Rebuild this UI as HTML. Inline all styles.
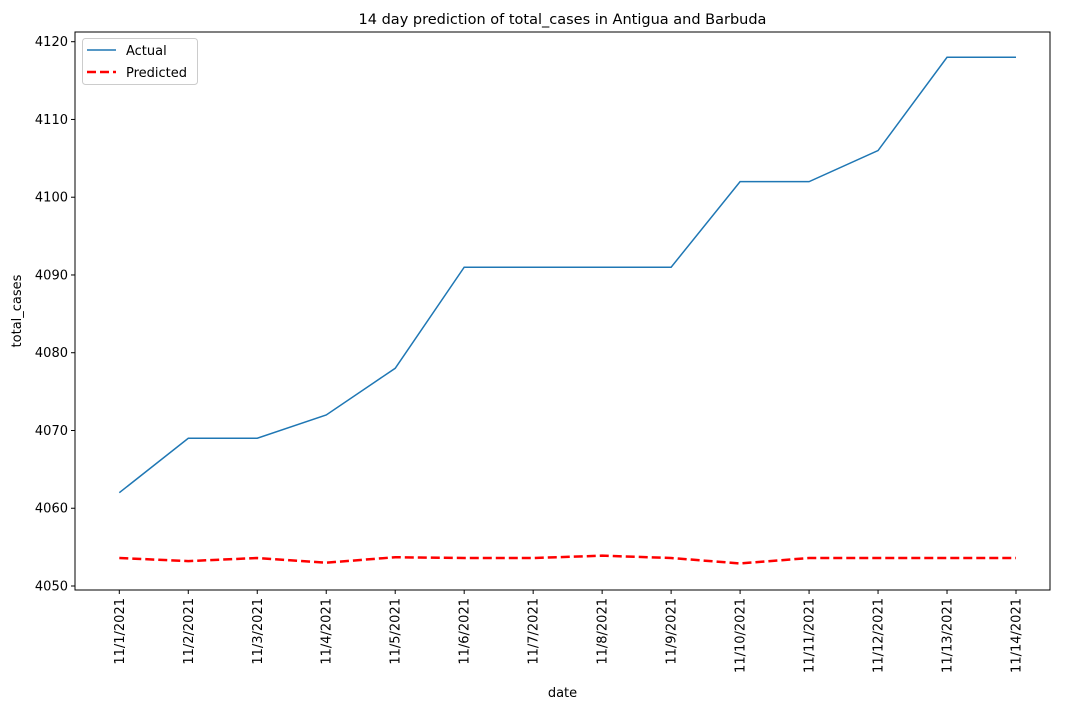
<!DOCTYPE html>
<html><head><meta charset="utf-8"><style>
body{margin:0;background:#fff;font-family:"Liberation Sans","DejaVu Sans",sans-serif}
</style></head><body>
<svg id="chart" width="1070" height="709" xmlns="http://www.w3.org/2000/svg" font-family="DejaVu Sans, Liberation Sans, sans-serif">
<rect width="1070" height="709" fill="#fff"/>
<g id="plot"></g>
</svg>
<script>
const categories=["11/1/2021","11/2/2021","11/3/2021","11/4/2021","11/5/2021","11/6/2021","11/7/2021","11/8/2021","11/9/2021","11/10/2021","11/11/2021","11/12/2021","11/13/2021","11/14/2021"];
const actual=[4062,4069,4069,4072,4078,4091,4091,4091,4091,4102,4102,4106,4118,4118];
const predicted=[4053.6,4053.2,4053.6,4053.0,4053.7,4053.6,4053.6,4053.9,4053.6,4052.9,4053.6,4053.6,4053.6,4053.6];
const yTicks=[4050,4060,4070,4080,4090,4100,4110,4120];

const NS="http://www.w3.org/2000/svg";
const g=document.getElementById('plot');
const L=75,R=1050,T=32,B=590;
const x=i=>119.3+i*(1016-119.3)/(categories.length-1);
const y=v=>586-(v-4050)*(586-41.7)/70;
function mk(tag,attrs,parent){const e=document.createElementNS(NS,tag);for(const k in attrs)e.setAttribute(k,attrs[k]);(parent||g).appendChild(e);return e;}

let t=mk('text',{x:(L+R)/2,y:24,'text-anchor':'middle','font-size':14.5,fill:'#000'});
t.textContent="14 day prediction of total_cases in Antigua and Barbuda";



yTicks.forEach(v=>{
 const l=mk('line',{x1:L-4,x2:L,y1:y(v),y2:y(v),stroke:'#000'});
 
 
 const tx=mk('text',{x:L-7,y:y(v)+4.5,'text-anchor':'end','font-size':13,fill:'#000'});
 tx.textContent=v;
 
 
});
categories.forEach((c,i)=>{
 const l=mk('line',{x1:x(i),x2:x(i),y1:B,y2:B+4,stroke:'#000'});
 
 
 const tx=mk('text',{x:0,y:0,'text-anchor':'end','font-size':13,fill:'#000',transform:`translate(${x(i)+4.5},${B+8}) rotate(-90)`});
 tx.textContent=c;
 
 
});

let p1=mk('polyline',{points:actual.map((v,i)=>x(i)+','+y(v)).join(' '),fill:'none',stroke:'#1f77b4','stroke-width':1.5});


let p2=mk('polyline',{points:predicted.map((v,i)=>x(i)+','+y(v)).join(' '),fill:'none',stroke:'#ff0000','stroke-width':2.5,'stroke-dasharray':'9,4'});



let fr=mk('rect',{x:L,y:T,width:R-L,height:B-T,fill:'none',stroke:'#000','stroke-width':1});



let xl=mk('text',{x:(L+R)/2,y:697,'text-anchor':'middle','font-size':13,fill:'#000'});
xl.textContent="date";


let yl=mk('text',{x:0,y:0,'text-anchor':'middle','font-size':13,fill:'#000',transform:`translate(21,${(T+B)/2}) rotate(-90)`});
yl.textContent="total_cases";



const lg=mk('g',{});


mk('rect',{x:82.5,y:38.5,width:115,height:46,rx:3,fill:'#fff',stroke:'#ccc'},lg);
mk('line',{x1:87,x2:116,y1:50,y2:50,stroke:'#1f77b4','stroke-width':1.5},lg);
mk('line',{x1:87,x2:116,y1:72,y2:72,stroke:'#ff0000','stroke-width':2.5,'stroke-dasharray':'9,4'},lg);
let a=mk('text',{x:126,y:55,'font-size':13,fill:'#000'},lg);a.textContent="Actual";


let b=mk('text',{x:126,y:77,'font-size':13,fill:'#000'},lg);b.textContent="Predicted";


</script>
</body></html>
